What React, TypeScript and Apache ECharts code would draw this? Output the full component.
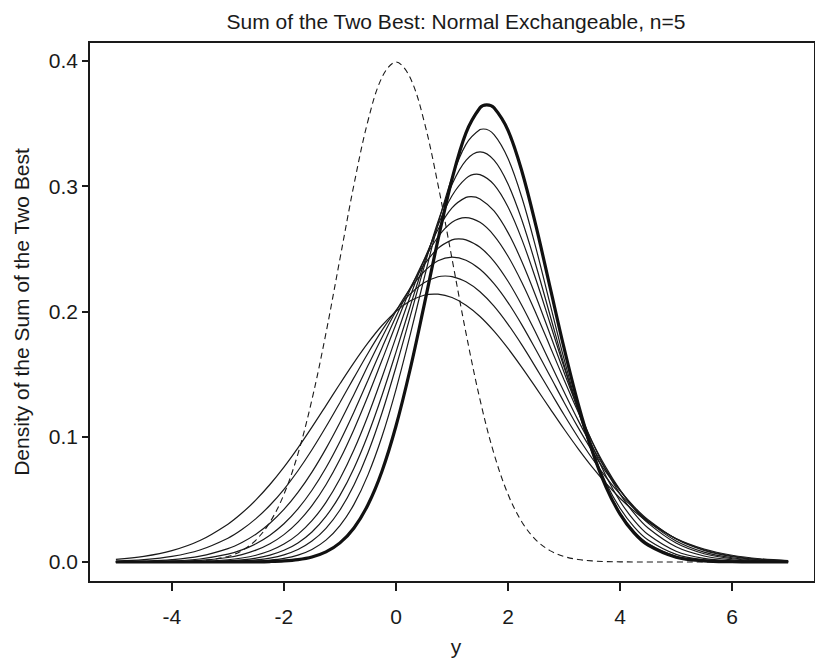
import React, { useEffect, useRef } from "react";
import * as echarts from "echarts";

// Shared x grid for all curves
const xGrid = [-5, -4.5, -4, -3.5, -3, -2.75, -2.5, -2.25, -2, -1.75, -1.5, -1.25, -1, -0.75, -0.5, -0.25, 0, 0.25, 0.5, 0.75, 1, 1.25, 1.5, 1.75, 2, 2.25, 2.5, 2.75, 3, 3.25, 3.5, 3.75, 4, 4.25, 4.5, 5, 5.5, 6, 6.5, 7];

// Dashed reference curve (standard normal density)
const normalRef = [0.0000015, 0.000016, 0.000134, 0.000873, 0.004432, 0.009094, 0.017528, 0.03174, 0.053991, 0.08628, 0.129518, 0.1826, 0.241971, 0.3011, 0.352065, 0.3867, 0.398942, 0.3867, 0.352065, 0.3011, 0.241971, 0.1826, 0.129518, 0.08628, 0.053991, 0.03174, 0.017528, 0.009094, 0.004432, 0.002029, 0.000873, 0.000353, 0.000134, 0.0000475, 0.000016, 0.0000015, 0, 0, 0, 0];

// Thick curve (highest peak)
const best0 = [0, 0, 0, 0.000002, 0.000019, 0.000054, 0.00014, 0.000359, 0.00085, 0.00191, 0.00405, 0.00809, 0.01528, 0.02717, 0.04567, 0.07245, 0.1085, 0.1532, 0.2043, 0.2571, 0.3054, 0.3424, 0.3624, 0.3624, 0.3444, 0.3114, 0.2679, 0.2193, 0.1708, 0.1265, 0.0892, 0.0598, 0.0382, 0.02316, 0.0134, 0.0038, 0.0009, 0.0002, 0.00003, 0];

// Thin curves, from highest to lowest peak
const best1 = [0, 0.0000003, 0.000003, 0.000022, 0.000133, 0.000308, 0.00068, 0.001427, 0.00286, 0.00549, 0.01002, 0.01745, 0.029, 0.04596, 0.0695, 0.1001, 0.1376, 0.1806, 0.2259, 0.2696, 0.3069, 0.3332, 0.345, 0.341, 0.3219, 0.2904, 0.2502, 0.206, 0.162, 0.1217, 0.0874, 0.05994, 0.0393, 0.02458, 0.0147, 0.0046, 0.0012, 0.00026, 0.00005, 0.000007];
const best2 = [0.0000003, 0.000002, 0.000015, 0.000085, 0.000406, 0.000836, 0.00165, 0.003136, 0.00571, 0.00997, 0.0167, 0.02688, 0.04145, 0.06141, 0.0872, 0.1189, 0.1556, 0.1952, 0.2351, 0.2717, 0.3013, 0.3205, 0.3272, 0.3206, 0.3016, 0.2725, 0.2364, 0.1969, 0.1574, 0.1209, 0.0891, 0.0631, 0.0429, 0.02799, 0.0175, 0.0061, 0.0018, 0.00045, 0.0001, 0.00002];
const best3 = [0.0000015, 0.000009, 0.000049, 0.000226, 0.000907, 0.001717, 0.00313, 0.005508, 0.00933, 0.01525, 0.02398, 0.03639, 0.05316, 0.07488, 0.1016, 0.1329, 0.1675, 0.2035, 0.2382, 0.2687, 0.2922, 0.3061, 0.3091, 0.3011, 0.2832, 0.257, 0.2252, 0.1905, 0.1555, 0.1226, 0.0932, 0.06848, 0.0485, 0.0332, 0.0219, 0.0086, 0.0029, 0.00087, 0.00022, 0.00005];
const best4 = [0.0000055, 0.000029, 0.000131, 0.000519, 0.00179, 0.003167, 0.00541, 0.00894, 0.01429, 0.02206, 0.03294, 0.04754, 0.06635, 0.08949, 0.1167, 0.1472, 0.1794, 0.2114, 0.2409, 0.2653, 0.2825, 0.2909, 0.2897, 0.2801, 0.2628, 0.2394, 0.2117, 0.1817, 0.1514, 0.1224, 0.0961, 0.07325, 0.0542, 0.03891, 0.0271, 0.0121, 0.0048, 0.0017, 0.0005, 0.00014];
const best5 = [0.000023, 0.000098, 0.000366, 0.00122, 0.0036, 0.005914, 0.00943, 0.01457, 0.02186, 0.03183, 0.04496, 0.06161, 0.08195, 0.1058, 0.1324, 0.1609, 0.1897, 0.217, 0.2408, 0.2593, 0.271, 0.2748, 0.271, 0.2605, 0.244, 0.2228, 0.1983, 0.172, 0.1454, 0.1198, 0.0962, 0.07532, 0.0575, 0.04271, 0.031, 0.0151, 0.0066, 0.0026, 0.0009, 0.0003];
const best6 = [0.00007, 0.000253, 0.000821, 0.00239, 0.00623, 0.009657, 0.01456, 0.02137, 0.0305, 0.04236, 0.05723, 0.07523, 0.0962, 0.1197, 0.145, 0.1708, 0.1958, 0.2184, 0.237, 0.2502, 0.257, 0.257, 0.2511, 0.2399, 0.224, 0.2045, 0.1825, 0.1592, 0.1358, 0.1132, 0.0922, 0.0735, 0.0572, 0.04357, 0.0324, 0.0168, 0.0079, 0.0034, 0.00135, 0.0005];
const best7 = [0.000215, 0.000661, 0.00184, 0.00466, 0.01069, 0.0156, 0.02223, 0.03091, 0.04193, 0.05552, 0.07174, 0.09047, 0.1113, 0.1337, 0.1567, 0.1792, 0.2001, 0.2179, 0.2316, 0.2403, 0.2432, 0.2408, 0.2336, 0.2221, 0.207, 0.189, 0.1691, 0.1484, 0.1275, 0.1074, 0.0887, 0.07175, 0.0569, 0.04421, 0.0337, 0.0184, 0.0093, 0.0043, 0.0018, 0.0007];
const best8 = [0.000756, 0.00192, 0.00447, 0.0096, 0.01899, 0.0259, 0.0346, 0.04525, 0.058, 0.07282, 0.08955, 0.1079, 0.1273, 0.1471, 0.1666, 0.1848, 0.2008, 0.2137, 0.2228, 0.2276, 0.2277, 0.2236, 0.2156, 0.2041, 0.1896, 0.173, 0.1549, 0.1362, 0.1175, 0.09955, 0.0828, 0.06761, 0.0542, 0.04265, 0.033, 0.0186, 0.0098, 0.0048, 0.0022, 0.0009];
const best9 = [0.00202, 0.00443, 0.00902, 0.01711, 0.0302, 0.03904, 0.04958, 0.06183, 0.0757, 0.09106, 0.1076, 0.1248, 0.1422, 0.1591, 0.1748, 0.1887, 0.2, 0.2082, 0.2128, 0.2137, 0.211, 0.2049, 0.1959, 0.1842, 0.1704, 0.1551, 0.1389, 0.1224, 0.1061, 0.0905, 0.0759, 0.0627, 0.0509, 0.04071, 0.032, 0.0188, 0.0104, 0.0054, 0.0026, 0.0012];

// Peak (mode) of each curve: best0 .. best9
const peakX = [1.62, 1.56, 1.5, 1.44, 1.34, 1.24, 1.12, 1.0, 0.88, 0.68];
const peakY = [0.3648, 0.3455, 0.3272, 0.3094, 0.2915, 0.2748, 0.2578, 0.2432, 0.2282, 0.2138];

const allCurves = [best0, best1, best2, best3, best4, best5, best6, best7, best8, best9];

// Tick labels
const xTicks = [-4, -2, 0, 2, 4, 6];
const yTicks = [0, 0.1, 0.2, 0.3, 0.4];

const titleText = "Sum of the Two Best: Normal Exchangeable, n=5";
const xName = "y";
const yName = "Density of the Sum of the Two Best";

const FONT = "'Liberation Sans', Arial, Helvetica, sans-serif";
const INK = "#1a1a1a";

const toPairs = (ys: number[]) => xGrid.map((x, i) => [x, ys[i]]);

const withPeak = (ys: number[], px: number, py: number) => {
  const pts = xGrid
    .map((x, i) => [x, ys[i]])
    .filter((p) => Math.abs(p[0] - px) > 0.02);
  pts.push([px, py]);
  pts.sort((a, b) => a[0] - b[0]);
  return pts;
};

export default function App() {
  const ref = useRef<HTMLDivElement>(null);

  useEffect(() => {
    if (!ref.current) return;
    const chart = echarts.init(ref.current, undefined, { renderer: "svg" });

    const series: any[] = [];
    series.push({
      name: "normal",
      type: "line",
      data: toPairs(normalRef),
      showSymbol: false,
      smooth: 0.35,
      lineStyle: { color: INK, width: 1.1, type: [6, 4] },
      z: 2,
    });
    for (let i = 1; i < allCurves.length; i++) {
      series.push({
        name: "best" + i,
        type: "line",
        data: withPeak(allCurves[i], peakX[i], peakY[i]),
        showSymbol: false,
        smooth: 0.35,
        lineStyle: { color: INK, width: 1.2 },
        z: 3,
      });
    }
    series.push({
      name: "best0",
      type: "line",
      data: withPeak(best0, peakX[0], peakY[0]),
      showSymbol: false,
      smooth: 0.35,
      lineStyle: { color: "#111", width: 3.2 },
      z: 4,
    });

    const labelFont = { fontSize: 21, fontFamily: FONT, color: INK };

    chart.setOption({
      animation: false,
      backgroundColor: "#ffffff",
      grid: {
        left: 89,
        top: 42,
        width: 735,
        height: 540,
        show: true,
        borderColor: INK,
        borderWidth: 2,
        backgroundColor: "transparent",
        containLabel: false,
      },
      xAxis: {
        type: "value",
        min: -5.48,
        max: 7.48,
        axisLine: { show: false, onZero: false },
        splitLine: { show: false },
        axisTick: {
          show: true,
          customValues: xTicks,
          length: 9,
          inside: false,
          lineStyle: { color: INK, width: 2 },
        },
        axisLabel: {
          customValues: xTicks,
          margin: 24,
          ...labelFont,
          formatter: (v: number) => String(v),
        },
      },
      yAxis: {
        type: "value",
        min: -0.01596,
        max: 0.4149,
        axisLine: { show: false, onZero: false },
        splitLine: { show: false },
        axisTick: {
          show: true,
          customValues: yTicks,
          length: 7,
          inside: false,
          lineStyle: { color: INK, width: 2 },
        },
        axisLabel: {
          customValues: yTicks,
          margin: 11,
          ...labelFont,
          formatter: (v: number) => v.toFixed(1),
        },
      },
      graphic: [
        {
          type: "text",
          x: 456,
          y: 21,
          style: {
            text: titleText,
            fontSize: 21,
            fontFamily: FONT,
            fill: INK,
            textAlign: "center",
            textVerticalAlign: "middle",
          },
        },
        {
          type: "text",
          x: 456,
          y: 646,
          style: {
            text: xName,
            fontSize: 21,
            fontFamily: FONT,
            fill: INK,
            textAlign: "center",
            textVerticalAlign: "middle",
          },
        },
        {
          type: "text",
          x: 21,
          y: 312,
          rotation: Math.PI / 2,
          style: {
            text: yName,
            fontSize: 21,
            fontFamily: FONT,
            fill: INK,
            textAlign: "center",
            textVerticalAlign: "middle",
          },
        },
      ],
      series,
    });

    return () => chart.dispose();
  }, []);

  return (
    <div
      ref={ref}
      style={{ position: "fixed", left: 0, top: 0, width: 815, height: 658, background: "#fff" }}
    />
  );
}
